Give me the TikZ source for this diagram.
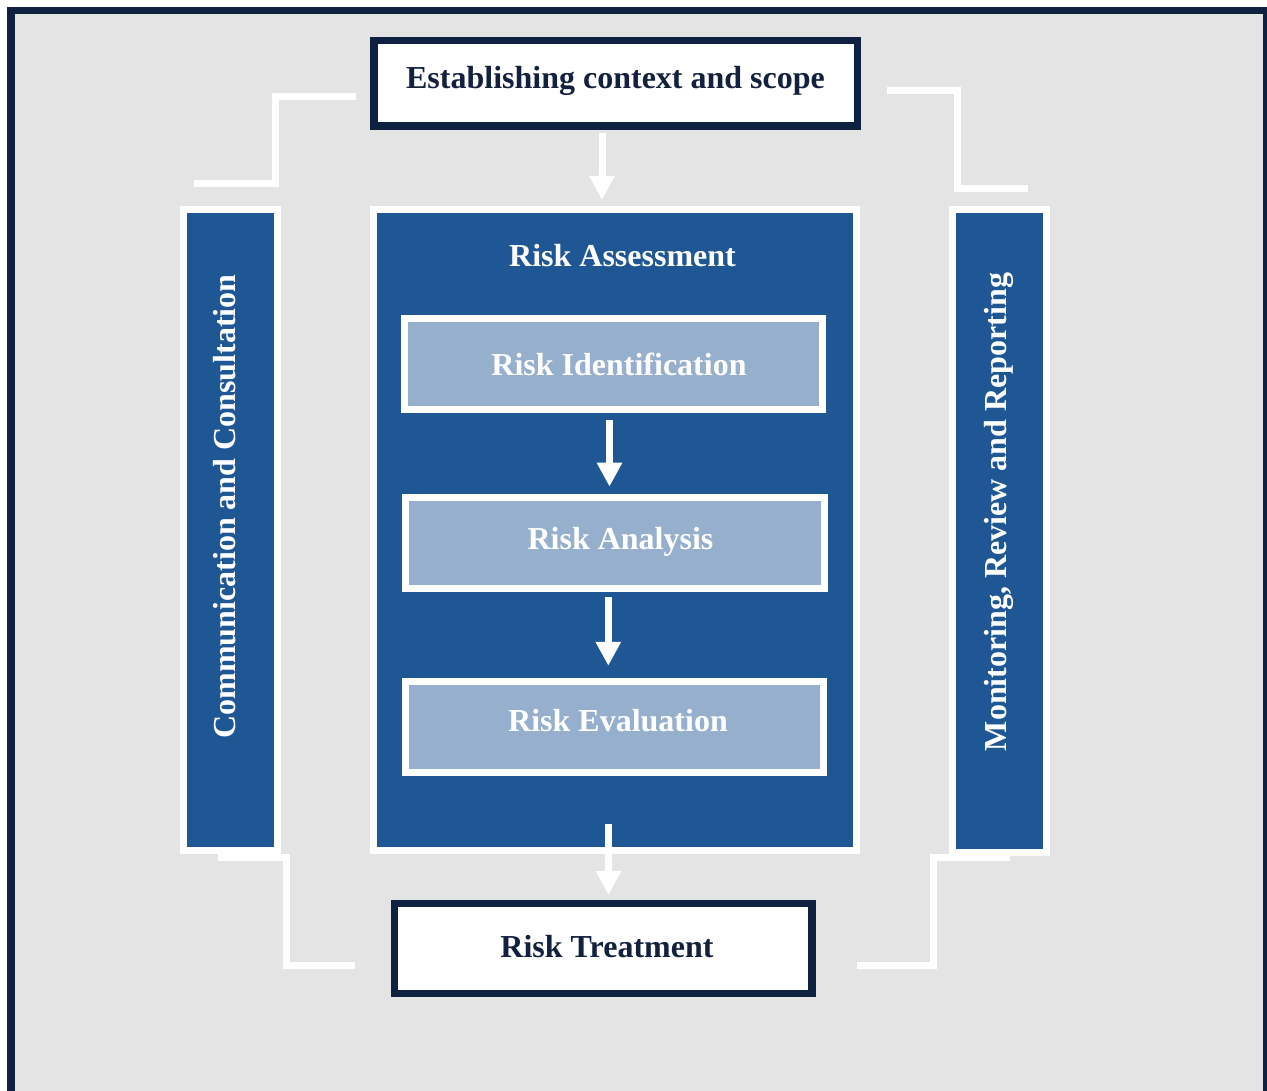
\documentclass[tikz,border=0pt]{standalone}
\usepackage{fontspec}
\setmainfont{Liberation Serif}
\usetikzlibrary{arrows.meta}
\definecolor{navy}{HTML}{0E2240}
\definecolor{navytext}{HTML}{13213F}
\definecolor{midblue}{HTML}{1E5794}
\definecolor{lightblue}{HTML}{95AFCC}
\definecolor{bggray}{HTML}{E4E4E4}
\newcommand\diagfont{\fontsize{32pt}{38pt}\selectfont\bfseries}
\tikzset{
  navybox/.style={draw=navy, line width=7.5pt, fill=white, inner sep=0pt},
  bluebox/.style={draw=white, line width=7pt, fill=midblue, inner sep=0pt},
  lightbox/.style={draw=white, line width=7pt, fill=lightblue, inner sep=0pt, minimum height=90.7pt},
  whitetext/.style={text=white, font=\diagfont, inner sep=0pt, anchor=base},
  navytextstyle/.style={text=navytext, font=\diagfont, inner sep=0pt, anchor=base},
  flow/.style={draw=white, line width=7pt, -{Triangle[width=24pt,length=24pt]}},
  link/.style={draw=white, line width=7pt, line join=miter}
}
\begin{document}
\begin{tikzpicture}[x=1pt,y=-1pt]
\useasboundingbox (0,0) rectangle (1267,1091);
\clip (0,0) rectangle (1267,1091);
\fill[white] (0,0) rectangle (1267,1091);
\draw[navy, line width=7.5pt, fill=bggray] (10.75,10.75) rectangle (1267,1110);

% boxes
\node[navybox, minimum width=483.5pt, minimum height=85.5pt] (scope) at (615.5,83.5) {};
\node[navytextstyle] (scopetext) at (615.5,89) {Establishing context and scope};
\node[bluebox, minimum width=483pt, minimum height=641pt] (assess) at (615,530) {};
\node[whitetext] (assesstitle) at (622.5,266.5) {Risk Assessment};
\node[lightbox, minimum width=418pt] (ident) at (613.2,363.9) {};
\node[whitetext] (identtext) at (619,376) {Risk Identification};
\node[lightbox, minimum width=418.4pt] (anal) at (615,542.8) {};
\node[whitetext] (analtext) at (620.5,549) {Risk Analysis};
\node[lightbox, minimum width=417.7pt] (evalu) at (614.7,727.2) {};
\node[whitetext] (evalutext) at (618,731.7) {Risk Evaluation};
\node[navybox, minimum width=417.5pt, minimum height=89.8pt] (treat) at (603.2,948.6) {};
\node[navytextstyle] (treattext) at (607,957.6) {Risk Treatment};

\node[bluebox, minimum width=94pt, minimum height=641pt] (comm) at (230.5,530) {};
\node[whitetext, rotate=90] (commtext) at (235,506.5) {Communication and Consultation};
\node[bluebox, minimum width=94pt, minimum height=642pt] (mon) at (999,531) {};
\node[whitetext, rotate=90] (montext) at (1006.5,512) {Monitoring, Review and Reporting};

% arrows
\draw[flow] ([xshift=-13.5pt,yshift=-3pt]scope.south) -- ([xshift=-13pt,yshift=6pt]assess.north);
\draw[flow] ([xshift=-3.7pt,yshift=-7.3pt]ident.south) -- ([xshift=-5.5pt,yshift=7.3pt]anal.north);
\draw[flow] ([xshift=-6.7pt,yshift=-5pt]anal.south) -- ([xshift=-6.4pt,yshift=12.6pt]evalu.north);
\draw[flow] ([xshift=-6.5pt,yshift=30.5pt]assess.south) -- ([xshift=5.3pt,yshift=5pt]treat.north);

% connectors
\coordinate (lt1) at (356,97);
\coordinate (lt2) at (194,183.5);
\draw[link] (lt1) -- (275.5,97) -- (275.5,183.5) -- (lt2);
\coordinate (rt1) at (887,91);
\coordinate (rt2) at (1028,189);
\draw[link] (rt1) -- (957.5,91) -- (957.5,189) -- (rt2);
\coordinate (lb1) at (218,857);
\coordinate (lb2) at (355,965);
\draw[link] (lb1) -- (286,857) -- (286,965) -- (lb2);
\coordinate (rb1) at (1010,857);
\coordinate (rb2) at (857,965);
\draw[link] (rb1) -- (933.5,857) -- (933.5,965) -- (rb2);
\end{tikzpicture}
\end{document}
